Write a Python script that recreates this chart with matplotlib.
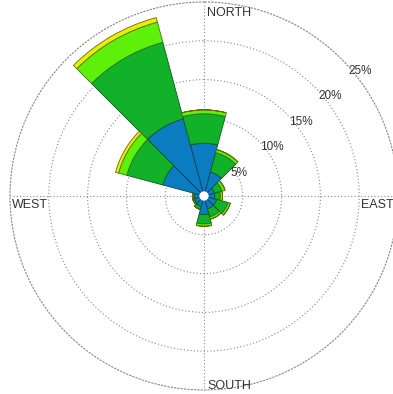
import numpy as np
import matplotlib
matplotlib.use('Agg')
from matplotlib import pyplot as plt

plt.rcParams['font.family'] = ['Liberation Sans', 'DejaVu Sans']

# wind directions (degrees from north, clockwise) and cumulative-class frequencies (%)
directions = [0, 30, 60, 90, 120, 150, 180, 210, 240, 270, 300, 330]
class1 = [6.8, 3.2, 1.4, 1.4, 1.7, 1.7, 2.4, 1.4, 1.3, 1.3, 5.5, 10.3]
class2 = [3.8, 2.6, 1.0, 0.7, 1.5, 1.1, 1.2, 0.4, 0.2, 0.2, 4.8, 10.2]
class3 = [0.5, 0.4, 0.4, 0.3, 0.3, 0.3, 0.3, 0.0, 0.0, 0.0, 1.1, 2.7]
class4 = [0.0, 0.0, 0.0, 0.0, 0.0, 0.0, 0.0, 0.0, 0.0, 0.0, 0.4, 0.6]

class_colors = ['#0a7dc0', '#12b12a', '#5cf00a', '#e6f000']
class_edges = ['#0b3f66', '#0b5a18', '#2f7a08', '#6a6a00']

ring_values = [5, 10, 15, 20, 25]
ring_labels = ['5%', '10%', '15%', '20%', '25%']

fig = plt.figure(figsize=(3.93, 3.94), dpi=100)
ax = fig.add_axes([10 / 393, 4 / 394, 388 / 393, 388 / 394], projection='polar')
ax.set_theta_zero_location('N')
ax.set_theta_direction(-1)
ax.set_ylim(0, 25)

theta = np.deg2rad(directions)
width = np.deg2rad(30)
bottom = np.zeros(len(directions))
for vals, col, ec in zip([class1, class2, class3, class4], class_colors, class_edges):
    vals = np.array(vals)
    ax.bar(theta, vals, width=width, bottom=bottom, color=col,
           edgecolor=ec, linewidth=0.6, zorder=3)
    bottom = bottom + vals

# white hole at the centre
ax.bar(0, 0.6, width=2 * np.pi, bottom=0, color='white', linewidth=0, zorder=5)

# grid
ax.set_axisbelow(True)
ax.set_xticks(np.deg2rad([0, 90, 180, 270]))
ax.set_xticklabels([])
ax.set_yticks(ring_values[:-1])
ax.set_yticklabels([])
ax.grid(True, color='#888888', linestyle=(0, (1, 2)), linewidth=0.8)
ax.spines['polar'].set_linestyle((0, (1, 2)))
ax.spines['polar'].set_color('#888888')
ax.spines['polar'].set_linewidth(0.8)
ax.patch.set_visible(False)

for v, lab in zip(ring_values, ring_labels):
    ax.text(np.deg2rad(49), v - 0.4, lab, ha='left', va='center',
            fontsize=8.5, color='#333333', zorder=6)

txt = dict(fontsize=9, color='#333333', textcoords='offset pixels',
           annotation_clip=False)
ax.annotate('NORTH', xy=(0, 25), xytext=(3, -5), ha='left', va='top', **txt)
ax.annotate('SOUTH', xy=(np.pi, 25), xytext=(3, 1), ha='left', va='baseline', **txt)
ax.annotate('WEST', xy=(1.5 * np.pi, 25), xytext=(2, -3), ha='left', va='top', **txt)
ax.annotate('EAST', xy=(0.5 * np.pi, 25), xytext=(-4, -3), ha='right', va='top', **txt)

fig.savefig('out.png', dpi=100)
